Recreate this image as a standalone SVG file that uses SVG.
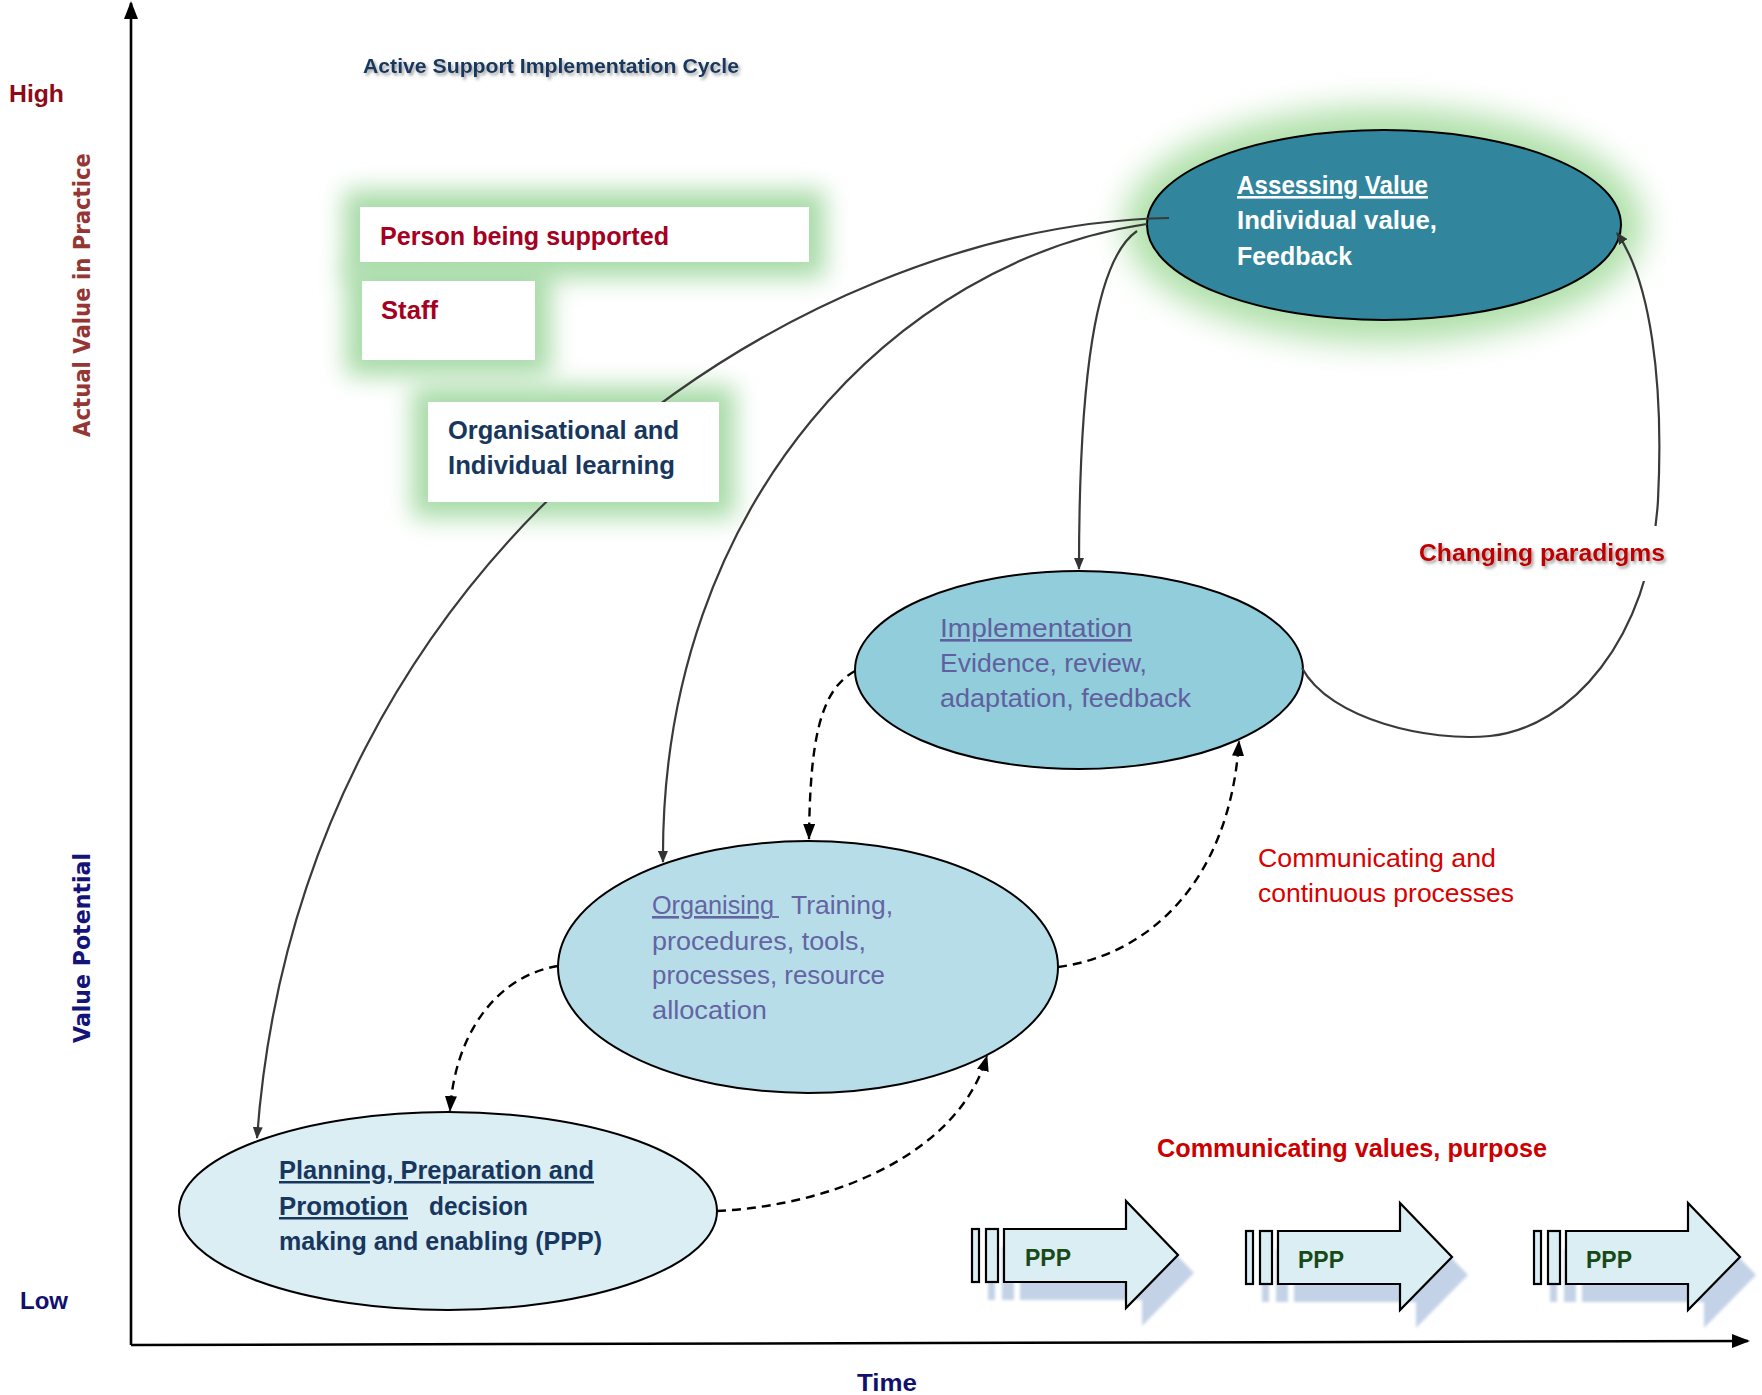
<svg xmlns="http://www.w3.org/2000/svg" width="1762" height="1395" viewBox="0 0 1762 1395">
<defs>
<style>
.b{font-family:"Liberation Sans",Arial,sans-serif;font-weight:bold}
.r{font-family:"Liberation Sans",Arial,sans-serif;font-weight:normal}
.v{font-family:"DejaVu Sans",Verdana,sans-serif;font-weight:bold}
.ax{stroke:#000;stroke-width:2.6;fill:none}
.sol{stroke:#3a3a3a;stroke-width:2.2;fill:none;marker-end:url(#arrS)}
.dsh{stroke:#000;stroke-width:2.4;fill:none;stroke-dasharray:9 6;marker-end:url(#arrD)}
.ell{stroke:#000;stroke-width:2}
.box{fill:#fff}
.glow{fill:#a8dba8;filter:url(#blur12)}
.u{text-decoration:underline}
.arr{fill:#daeef3;stroke:#000;stroke-width:2.2}
.ppp{fill:#174a17}
</style>
<filter id="blur12" x="-40%" y="-80%" width="180%" height="260%"><feGaussianBlur stdDeviation="12"/></filter>
<filter id="blur16" x="-30%" y="-60%" width="160%" height="220%"><feGaussianBlur stdDeviation="16"/></filter>
<filter id="blur2" x="-20%" y="-30%" width="140%" height="160%"><feGaussianBlur stdDeviation="1.5"/></filter>
<filter id="tshadow" x="-10%" y="-50%" width="120%" height="200%"><feDropShadow dx="2" dy="2.5" stdDeviation="1.5" flood-color="#555" flood-opacity="0.55"/></filter>
<marker id="arrS" markerWidth="12" markerHeight="10" refX="11" refY="5" orient="auto" markerUnits="userSpaceOnUse"><path d="M0,0 L12,5 L0,10 z" fill="#333"/></marker>
<marker id="arrD" markerWidth="16" markerHeight="12" refX="15" refY="6" orient="auto" markerUnits="userSpaceOnUse"><path d="M0,0 L16,6 L0,12 z" fill="#000"/></marker>
<marker id="arrA" markerWidth="18" markerHeight="14" refX="16" refY="7" orient="auto" markerUnits="userSpaceOnUse"><path d="M0,0 L18,7 L0,14 z" fill="#000"/></marker>
<g id="pppShape">
<rect x="972" y="1229" width="7" height="53"/>
<rect x="986" y="1229" width="12" height="53"/>
<path d="M1004,1229 H1126 V1201 L1178,1255 L1126,1308 V1282 H1004 Z"/>
</g>
</defs>

<rect width="1762" height="1395" fill="#fff"/>

<g id="axes">
<path class="ax" d="M131,1345 L131,3" marker-end="url(#arrA)"/>
<path class="ax" d="M131,1345 L1748,1341" marker-end="url(#arrA)"/>
<text class="b" x="9" y="102" font-size="24" fill="#8c0b17" textLength="55" lengthAdjust="spacingAndGlyphs">High</text>
<text class="b" x="20" y="1309" font-size="24" fill="#10106e" textLength="48" lengthAdjust="spacingAndGlyphs">Low</text>
<text class="b" x="857" y="1391" font-size="24" fill="#10106e" textLength="60" lengthAdjust="spacingAndGlyphs">Time</text>
<text class="v" transform="translate(90,437) rotate(-90)" font-size="23" fill="#943634" textLength="284" lengthAdjust="spacingAndGlyphs">Actual Value in Practice</text>
<text class="v" transform="translate(90,1043) rotate(-90)" font-size="23" fill="#141478" textLength="190" lengthAdjust="spacingAndGlyphs">Value Potential</text>
</g>

<g id="title">
<text class="b" x="363" y="73" font-size="21" fill="#17375e" filter="url(#tshadow)" textLength="376" lengthAdjust="spacingAndGlyphs">Active Support Implementation Cycle</text>
</g>

<g id="glows">
<rect class="glow" x="344" y="190" width="481" height="88"/>
<rect class="glow" x="346" y="265" width="205" height="111"/>
<rect class="glow" x="412" y="386" width="323" height="132"/>
<ellipse cx="1384" cy="225" rx="260" ry="118" fill="#b0e0aa" filter="url(#blur16)"/>
</g>

<g id="node-assessing">
<ellipse class="ell" cx="1384" cy="225" rx="237" ry="95" fill="#31859c"/>
<text class="b u" x="1237" y="194" font-size="26" fill="#fff" textLength="191" lengthAdjust="spacingAndGlyphs">Assessing Value</text>
<text class="b" x="1237" y="229" font-size="26" fill="#fff" textLength="200" lengthAdjust="spacingAndGlyphs">Individual value,</text>
<text class="b" x="1237" y="265" font-size="26" fill="#fff" textLength="115" lengthAdjust="spacingAndGlyphs">Feedback</text>
</g>

<g id="node-implementation">
<ellipse class="ell" cx="1079" cy="670" rx="224" ry="99" fill="#92cddc"/>
<text class="r u" x="940" y="637" font-size="26" fill="#60609f" textLength="192" lengthAdjust="spacingAndGlyphs">Implementation</text>
<text class="r" x="940" y="672" font-size="26" fill="#60609f" textLength="207" lengthAdjust="spacingAndGlyphs">Evidence, review,</text>
<text class="r" x="940" y="707" font-size="26" fill="#60609f" textLength="251" lengthAdjust="spacingAndGlyphs">adaptation, feedback</text>
</g>

<g id="node-organising">
<ellipse class="ell" cx="808" cy="967" rx="250" ry="126" fill="#b7dee8"/>
<text class="r u" x="652" y="914" font-size="26" fill="#6464a4" textLength="122" lengthAdjust="spacingAndGlyphs">Organising</text>
<line x1="772" y1="917" x2="779" y2="917" stroke="#6464a4" stroke-width="1.8"/>
<text class="r" x="791" y="914" font-size="26" fill="#6464a4" textLength="102" lengthAdjust="spacingAndGlyphs">Training,</text>
<text class="r" x="652" y="950" font-size="26" fill="#6464a4" textLength="214" lengthAdjust="spacingAndGlyphs">procedures, tools,</text>
<text class="r" x="652" y="984" font-size="26" fill="#6464a4" textLength="233" lengthAdjust="spacingAndGlyphs">processes, resource</text>
<text class="r" x="652" y="1019" font-size="26" fill="#6464a4" textLength="115" lengthAdjust="spacingAndGlyphs">allocation</text>
</g>

<g id="node-planning">
<ellipse class="ell" cx="448" cy="1211" rx="269" ry="99" fill="#dbeef4"/>
<text class="b u" x="279" y="1179" font-size="25" fill="#17375e" textLength="315" lengthAdjust="spacingAndGlyphs">Planning, Preparation and</text>
<text class="b u" x="279" y="1215" font-size="25" fill="#17375e" textLength="129" lengthAdjust="spacingAndGlyphs">Promotion</text>
<text class="b" x="429" y="1215" font-size="25" fill="#17375e" textLength="99" lengthAdjust="spacingAndGlyphs">decision</text>
<text class="b" x="279" y="1250" font-size="25" fill="#17375e" textLength="323" lengthAdjust="spacingAndGlyphs">making and enabling (PPP)</text>
</g>

<g id="connectors">
<path class="sol" d="M1169,218 C800,225 300,550 257,1138"/>
<path class="sol" d="M1147,224 C900,260 660,500 663,862"/>
<path class="sol" d="M1137,231 C1095,260 1079,380 1079,569"/>
<path class="sol" d="M1302,668 C1330,720 1430,742 1490,736 C1570,728 1650,640 1658,500 C1664,380 1650,280 1617,233"/>
<path class="dsh" d="M855,671 C820,690 810,740 809,839"/>
<path class="dsh" d="M558,966 C500,975 455,1030 450,1111"/>
<path class="dsh" d="M717,1211 C840,1205 960,1150 987,1056"/>
<path class="dsh" d="M1058,967 C1150,955 1230,880 1239,741"/>
</g>

<g id="node-person">
<rect class="box" x="360" y="207" width="449" height="55"/>
<text class="b" x="380" y="245" font-size="25" fill="#a50021" textLength="289" lengthAdjust="spacingAndGlyphs">Person being supported</text>
</g>
<g id="node-staff">
<rect class="box" x="362" y="281" width="173" height="79"/>
<text class="b" x="381" y="319" font-size="25" fill="#a50021" textLength="57" lengthAdjust="spacingAndGlyphs">Staff</text>
</g>
<g id="node-learning">
<rect class="box" x="428" y="402" width="291" height="100"/>
<text class="b" x="448" y="439" font-size="25" fill="#17375e" textLength="231" lengthAdjust="spacingAndGlyphs">Organisational and</text>
<text class="b" x="448" y="474" font-size="25" fill="#17375e" textLength="227" lengthAdjust="spacingAndGlyphs">Individual learning</text>
</g>

<g id="labels">
<rect x="1415" y="526" width="255" height="55" fill="#fff"/>
<text class="b" x="1419" y="561" font-size="24" fill="#c00000" filter="url(#tshadow)" textLength="246" lengthAdjust="spacingAndGlyphs">Changing paradigms</text>
<text class="r" x="1258" y="867" font-size="25" fill="#d80000" textLength="238" lengthAdjust="spacingAndGlyphs">Communicating and</text>
<text class="r" x="1258" y="902" font-size="25" fill="#d80000" textLength="256" lengthAdjust="spacingAndGlyphs">continuous processes</text>
<text class="b" x="1157" y="1157" font-size="25" fill="#cc0000" textLength="390" lengthAdjust="spacingAndGlyphs">Communicating values, purpose</text>
</g>

<g id="ppp-1">
<use href="#pppShape" transform="translate(16,18)" fill="#c3d2e6" filter="url(#blur2)"/>
<use href="#pppShape" class="arr"/>
<text class="b ppp" x="1025" y="1266" font-size="24" textLength="46" lengthAdjust="spacingAndGlyphs">PPP</text>
</g>
<g id="ppp-2">
<use href="#pppShape" transform="translate(290,20)" fill="#c3d2e6" filter="url(#blur2)"/>
<use href="#pppShape" class="arr" transform="translate(274,2)"/>
<text class="b ppp" x="1298" y="1268" font-size="24" textLength="46" lengthAdjust="spacingAndGlyphs">PPP</text>
</g>
<g id="ppp-3">
<use href="#pppShape" transform="translate(578,20)" fill="#c3d2e6" filter="url(#blur2)"/>
<use href="#pppShape" class="arr" transform="translate(562,2)"/>
<text class="b ppp" x="1586" y="1268" font-size="24" textLength="46" lengthAdjust="spacingAndGlyphs">PPP</text>
</g>
</svg>
